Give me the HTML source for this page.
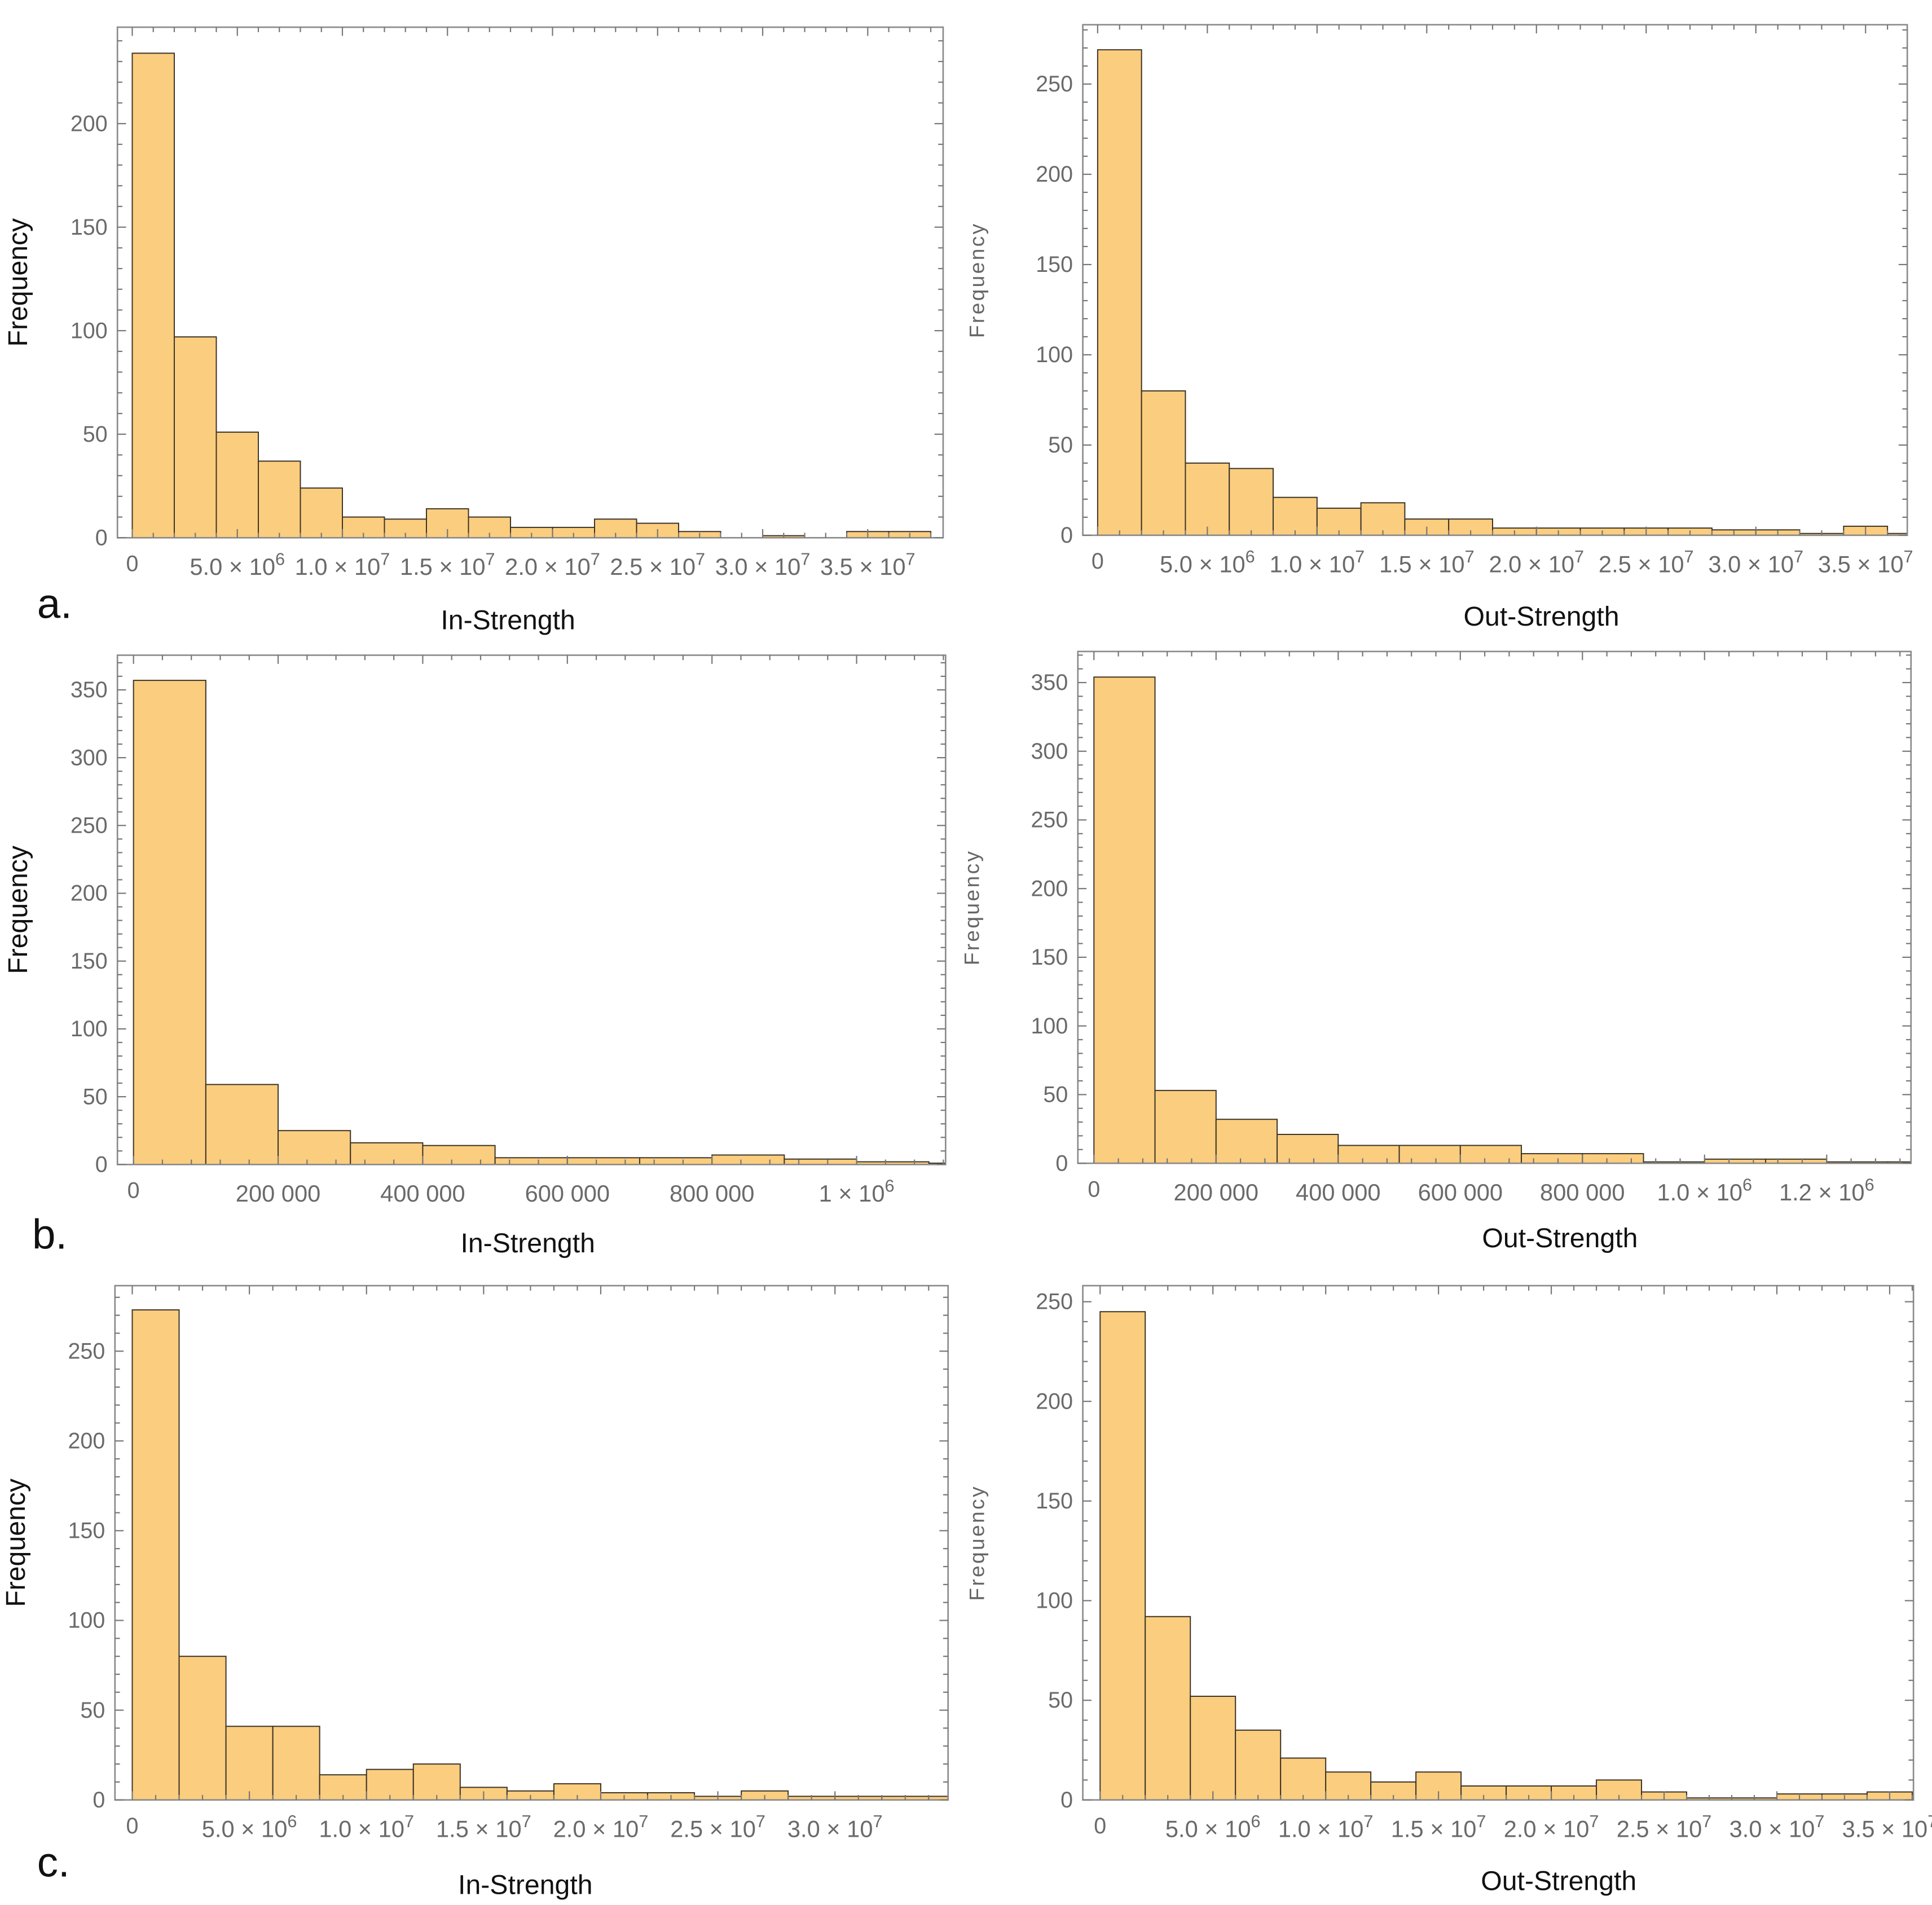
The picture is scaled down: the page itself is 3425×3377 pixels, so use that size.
<!DOCTYPE html>
<html><head><meta charset="utf-8">
<style>
html,body{margin:0;padding:0;background:#fff;}
svg{display:block;}
text{font-family:"Liberation Sans",sans-serif;}
</style></head>
<body>
<svg id="fig" width="3425" height="3377" viewBox="0 0 1563 1541" preserveAspectRatio="none" xmlns="http://www.w3.org/2000/svg">
<rect x="0" y="0" width="1563" height="1541" fill="#fff"/>
</svg>
<script>
// ---- data (counts per bin) ----
const aInCounts  = [234,97,51,37,24,10,9,14,10,5,5,9,7,3,0,1,0,3,3];
const aOutCounts = [269,80,40,37,21,15,18,9,9,4,4,4,4,4,3,3,1,5,1];
const bInCounts  = [357,59,25,16,14,5,5,5,7,4,2,1];
const bOutCounts = [354,53,32,21,13,13,13,7,7,1,3,3,1,1];
const cInCounts  = [273,80,41,41,14,17,20,7,5,9,4,4,2,5,2,2,2,2];
const cOutCounts = [245,92,52,35,21,14,9,14,7,7,7,10,4,1,1,3,3,4,1];
// bin widths (data units)
const aBin = 2e6, bBin = 1e5, cBin = 2e6;
// x tick values and labels
const sciTicks = [5e6,1e7,1.5e7,2e7,2.5e7,3e7,3.5e7];
const sciMant  = ["5.0","1.0","1.5","2.0","2.5","3.0","3.5"];
const sciExp   = ["6","7","7","7","7","7","7"];
const cTicks = [5e6,1e7,1.5e7,2e7,2.5e7,3e7];
const bInTicks = [2e5,4e5,6e5,8e5,1e6];
const bInMant  = ["200 000","400 000","600 000","800 000","1"];
const bInExp   = ["","","","","6"];
const bOutTicks = [2e5,4e5,6e5,8e5,1e6,1.2e6];
const bOutMant  = ["200 000","400 000","600 000","800 000","1.0","1.2"];
const bOutExp   = ["","","","","6","6"];
const yTicksA1 = [0,50,100,150,200];
const yTicks250 = [0,50,100,150,200,250];
const yTicks350 = [0,50,100,150,200,250,300,350];

const NS="http://www.w3.org/2000/svg";
const svg=document.getElementById('fig');
function mk(tag,attrs,parent){const e=document.createElementNS(NS,tag);for(const k in attrs)e.setAttribute(k,attrs[k]);(parent||svg).appendChild(e);return e;}

let clipId=0;
function panel(p){
  const g=mk('g',{});
  
  
  const xS=v=>p.x0+v/p.bin*p.bw;
  const yS=v=>p.base-v*p.py;
  const cid='clip'+(clipId++);
  const cp=mk('clipPath',{id:cid},g);
  mk('rect',{x:p.L,y:p.T,width:p.R-p.L,height:p.base-p.T+1},cp);
  const bars=mk('g',{'clip-path':'url(#'+cid+')'},g);
  p.counts.forEach((c,i)=>{
    if(c<=0) return;
    const r=mk('rect',{x:xS(i*p.bin),y:yS(c),width:xS((i+1)*p.bin)-xS(i*p.bin),height:c*p.py,fill:'#fbcd7e',stroke:'#3a3328','stroke-width':0.9},bars);
    
    
  });
  const fr=mk('rect',{x:p.L,y:p.T,width:p.R-p.L,height:p.base-p.T,fill:'none',stroke:'#8a8a8a','stroke-width':1.2},g);
  
  
  const ymax=(p.base-p.T)/p.py;
  for(let v=0;v<=ymax;v+=10){
    const major=v%50===0, len=major?7:4, y=yS(v);
    mk('line',{x1:p.L,y1:y,x2:p.L+len,y2:y,stroke:'#777','stroke-width':1},g);
    mk('line',{x1:p.R,y1:y,x2:p.R-len,y2:y,stroke:'#777','stroke-width':1},g);
  }
  p.yTicks.forEach(v=>{
    const t=mk('text',{x:p.L-8,y:yS(v)+6,'text-anchor':'end','font-size':18,fill:'#6a6a6a'},g);
    t.textContent=String(v);
    
    
  });
  const xmax=(p.R-p.x0)/p.bw*p.bin;
  const minorStep=p.major/5;
  for(let v=0;v<=xmax+1e-6;v+=minorStep){
    const k=Math.round(v/minorStep), major=k%5===0, len=major?7:4, x=xS(v);
    mk('line',{x1:x,y1:p.base,x2:x,y2:p.base-len,stroke:'#777','stroke-width':1},g);
    mk('line',{x1:x,y1:p.T,x2:x,y2:p.T+len,stroke:'#777','stroke-width':1},g);
  }
  const z=mk('text',{x:xS(0),y:p.base+27,'text-anchor':'middle','font-size':18,fill:'#6a6a6a'},g);
  z.textContent='0';
  
  
  p.xTicks.forEach((v,i)=>{
    const t=mk('text',{x:xS(v),y:p.base+30,'text-anchor':'middle','font-size':19,fill:'#6a6a6a'},g);
    
    
    const e=p.xExp[i];
    const s1=mk('tspan',{},t); s1.textContent=p.xMant[i]+(e?' \u00d7 10':'');
    if(e){const s2=mk('tspan',{dy:-8,'font-size':14},t); s2.textContent=e;}
  });
  const xt=mk('text',{x:p.xtX,y:p.xtY,'text-anchor':'middle','font-size':22,fill:'#111'},g);
  xt.textContent=p.xTitle;
  
  
  const yx=p.L-(p.right?80:73), yy=(p.T+p.base)/2;
  const yt=mk('text',{x:yx,y:yy,'text-anchor':'middle','font-size':p.right?17:22,fill:p.right?'#666':'#111','letter-spacing':p.right?'1.5':'0',transform:'rotate(-90 '+yx+' '+yy+')'},g);
  yt.textContent='Frequency';
  
  
}

panel({name:'panel-a-in-strength',counts:aInCounts,bin:aBin,major:5e6,L:95,R:763,T:22,base:435,x0:107,bw:34,py:1.675,yTicks:yTicksA1,xTicks:sciTicks,xMant:sciMant,xExp:sciExp,xTitle:'In-Strength',xtX:411,xtY:509});
panel({name:'panel-a-out-strength',right:true,counts:aOutCounts,bin:aBin,major:5e6,L:876,R:1543,T:20,base:433,x0:888,bw:35.5,py:1.46,yTicks:yTicks250,xTicks:sciTicks,xMant:sciMant,xExp:sciExp,xTitle:'Out-Strength',xtX:1247,xtY:506});
panel({name:'panel-b-in-strength',counts:bInCounts,bin:bBin,major:2e5,L:95,R:765,T:530,base:942,x0:108,bw:58.5,py:1.097,yTicks:yTicks350,xTicks:bInTicks,xMant:bInMant,xExp:bInExp,xTitle:'In-Strength',xtX:427,xtY:1013});
panel({name:'panel-b-out-strength',right:true,counts:bOutCounts,bin:bBin,major:2e5,L:872,R:1546,T:527,base:941,x0:885,bw:49.4,py:1.111,yTicks:yTicks350,xTicks:bOutTicks,xMant:bOutMant,xExp:bOutExp,xTitle:'Out-Strength',xtX:1262,xtY:1009});
panel({name:'panel-c-in-strength',counts:cInCounts,bin:cBin,major:5e6,L:93,R:767,T:1040,base:1456,x0:107,bw:37.9,py:1.452,yTicks:yTicks250,xTicks:cTicks,xMant:sciMant,xExp:sciExp,xTitle:'In-Strength',xtX:425,xtY:1532});
panel({name:'panel-c-out-strength',right:true,counts:cOutCounts,bin:cBin,major:5e6,L:876,R:1548,T:1040,base:1456,x0:890,bw:36.5,py:1.612,yTicks:yTicks250,xTicks:sciTicks,xMant:sciMant,xExp:sciExp,xTitle:'Out-Strength',xtX:1261,xtY:1529});

[['a.',30,500],['b.',26,1010],['c.',30,1518]].forEach(l=>{
  const t=mk('text',{x:l[1],y:l[2],'font-size':34,fill:'#111'});
  t.textContent=l[0];
  
  
});
</script>
</body></html>
